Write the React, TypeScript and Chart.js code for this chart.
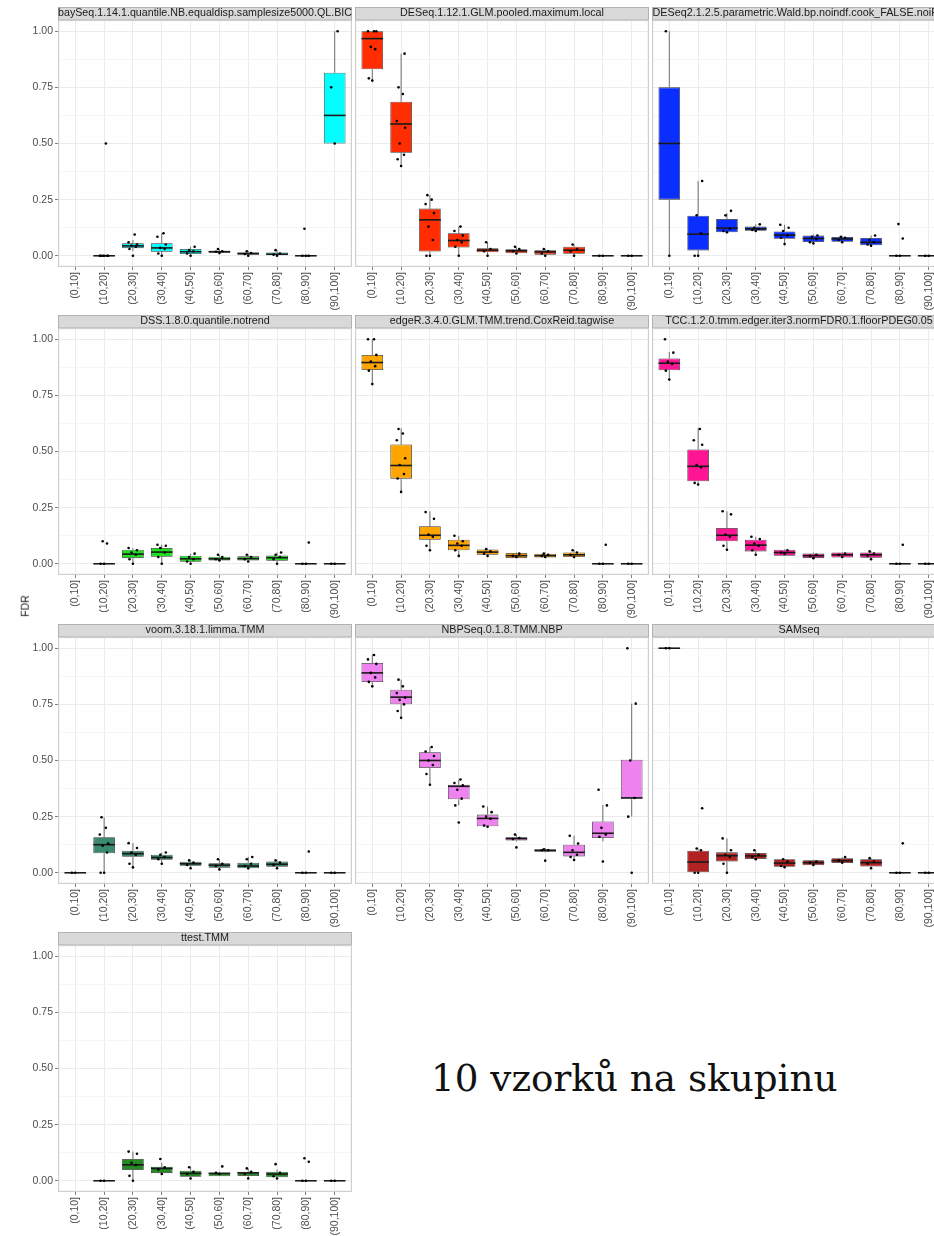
import React, { useEffect, useRef } from 'react';
import { Chart, registerables } from 'chart.js';

Chart.register(...registerables);
Chart.defaults.font.family = "'Liberation Sans', Arial, Helvetica, sans-serif";

// ---------- data ----------
const CATEGORIES = ['(0,10]', '(10,20]', '(20,30]', '(30,40]', '(40,50]', '(50,60]', '(60,70]', '(70,80]', '(80,90]', '(90,100]'];
const Y_LABEL = 'FDR';
const CAPTION = '10 vzorků na skupinu';

type Box = [number, number, number, number, number] | null; // [lower whisker, q1, median, q3, upper whisker]

const baySeqBoxes: Box[] = [null, [0, 0, 0, 0, 0], [0.02, 0.034, 0.044, 0.056, 0.07], [0, 0.018, 0.035, 0.056, 0.1], [0, 0.008, 0.018, 0.03, 0.04], [0.01, 0.013, 0.018, 0.022, 0.03], [0, 0.005, 0.01, 0.015, 0.02], [0, 0.002, 0.007, 0.015, 0.025], [0, 0, 0, 0, 0], [0.5, 0.5, 0.625, 0.815, 1.0]];
const baySeqPoints: number[][] = [[], [0, 0, 0, 0, 0, 0, 0.5], [0, 0.03, 0.04, 0.045, 0.05, 0.06, 0.095], [0, 0.01, 0.03, 0.035, 0.05, 0.085, 0.1], [0, 0.01, 0.02, 0.025, 0.04], [0.012, 0.018, 0.02, 0.03], [0, 0.008, 0.012, 0.02], [0, 0.005, 0.01, 0.025], [0, 0, 0, 0.12], [0.5, 0.75, 1.0]];

const deseqBoxes: Box[] = [[0.78, 0.83, 0.967, 1.0, 1.0], [0.4, 0.459, 0.587, 0.686, 0.9], [0, 0.019, 0.16, 0.21, 0.27], [0, 0.037, 0.068, 0.1, 0.13], [0, 0.016, 0.025, 0.034, 0.06], [0.01, 0.011, 0.022, 0.029, 0.04], [0, 0.005, 0.017, 0.025, 0.03], [0, 0.009, 0.025, 0.04, 0.05], [0, 0, 0, 0, 0], [0, 0, 0, 0, 0]];
const deseqPoints: number[][] = [[0.78, 0.79, 0.92, 0.93, 1, 1, 1], [0.4, 0.43, 0.45, 0.5, 0.57, 0.6, 0.72, 0.75, 0.9], [0, 0, 0.07, 0.13, 0.19, 0.23, 0.25, 0.27], [0, 0.04, 0.06, 0.07, 0.09, 0.11, 0.13], [0, 0.02, 0.03, 0.06], [0.01, 0.02, 0.03, 0.04], [0, 0.01, 0.02, 0.03], [0, 0.02, 0.03, 0.05], [0, 0], [0, 0]];

const deseq2Boxes: Box[] = [[0, 0.25, 0.5, 0.75, 1.0], [0, 0.024, 0.096, 0.178, 0.333], [0.1, 0.105, 0.123, 0.164, 0.19], [0.11, 0.111, 0.12, 0.13, 0.14], [0.052, 0.076, 0.092, 0.108, 0.138], [0.055, 0.061, 0.077, 0.09, 0.095], [0.06, 0.062, 0.075, 0.084, 0.088], [0.04, 0.047, 0.06, 0.079, 0.09], [0, 0, 0, 0, 0], [0, 0, 0, 0, 0]];
const deseq2Points: number[][] = [[0, 1.0], [0, 0, 0.1, 0.18, 0.333], [0.105, 0.11, 0.12, 0.18, 0.2], [0.11, 0.115, 0.12, 0.125, 0.14], [0.052, 0.08, 0.09, 0.11, 0.125, 0.138], [0.055, 0.06, 0.075, 0.085, 0.09], [0.06, 0.07, 0.08, 0.085], [0.045, 0.05, 0.06, 0.07, 0.09], [0, 0, 0.077, 0.141], [0, 0]];

const dssBoxes: Box[] = [null, [0, 0, 0, 0, 0], [0, 0.025, 0.043, 0.0625, 0.07], [0, 0.031, 0.052, 0.07, 0.085], [0, 0.009, 0.022, 0.036, 0.045], [0.012, 0.015, 0.022, 0.031, 0.04], [0.01, 0.015, 0.023, 0.033, 0.04], [0, 0.013, 0.027, 0.037, 0.05], [0, 0, 0, 0, 0], [0, 0, 0, 0, 0]];
const dssPoints: number[][] = [[], [0, 0, 0.09, 0.1], [0, 0.02, 0.04, 0.05, 0.06, 0.07], [0, 0.03, 0.05, 0.07, 0.08, 0.085], [0, 0.01, 0.02, 0.03, 0.045], [0.015, 0.02, 0.03, 0.04], [0.01, 0.02, 0.03, 0.04], [0, 0.02, 0.03, 0.04, 0.05], [0, 0, 0.095], [0, 0]];

const edgeRBoxes: Box[] = [[0.8, 0.863, 0.896, 0.93, 1.0], [0.318, 0.379, 0.4375, 0.531, 0.603], [0.06, 0.107, 0.127, 0.167, 0.234], [0.033, 0.06, 0.082, 0.107, 0.125], [0.035, 0.04, 0.052, 0.064, 0.068], [0.025, 0.025, 0.036, 0.048, 0.05], [0.025, 0.028, 0.036, 0.045, 0.05], [0.025, 0.03, 0.04, 0.05, 0.06], [0, 0, 0, 0, 0], [0, 0, 0, 0, 0]];
const edgeRPoints: number[][] = [[0.8, 0.86, 0.88, 0.9, 0.93, 1.0, 1.0], [0.32, 0.38, 0.4, 0.44, 0.47, 0.55, 0.58, 0.6], [0.06, 0.08, 0.12, 0.13, 0.2, 0.23], [0.035, 0.06, 0.08, 0.09, 0.1, 0.125], [0.035, 0.045, 0.055, 0.065], [0.03, 0.035, 0.045], [0.03, 0.035, 0.04, 0.045], [0.03, 0.04, 0.05, 0.06], [0, 0, 0.085], [0, 0]];

const tccBoxes: Box[] = [[0.82, 0.862, 0.893, 0.914, 0.943], [0.353, 0.367, 0.434, 0.509, 0.605], [0.0625, 0.1, 0.127, 0.159, 0.234], [0.04, 0.055, 0.083, 0.107, 0.12], [0.036, 0.036, 0.05, 0.0625, 0.065], [0.022, 0.025, 0.036, 0.046, 0.05], [0.028, 0.028, 0.04, 0.05, 0.052], [0.02, 0.027, 0.04, 0.05, 0.055], [0, 0, 0, 0, 0], [0, 0, 0, 0, 0]];
const tccPoints: number[][] = [[0.82, 0.86, 0.89, 0.9, 0.94, 1.0], [0.353, 0.36, 0.43, 0.44, 0.53, 0.55, 0.6], [0.0625, 0.08, 0.12, 0.13, 0.22, 0.234], [0.04, 0.06, 0.08, 0.09, 0.11, 0.12], [0.045, 0.05, 0.06], [0.025, 0.035, 0.04], [0.03, 0.04, 0.045], [0.02, 0.035, 0.045, 0.055], [0, 0, 0.085], [0, 0]];

const voomBoxes: Box[] = [[0, 0, 0, 0, 0], [0, 0.087, 0.125, 0.158, 0.247], [0.024, 0.071, 0.085, 0.098, 0.132], [0.04, 0.058, 0.068, 0.08, 0.09], [0.02, 0.031, 0.04, 0.049, 0.055], [0.015, 0.022, 0.034, 0.042, 0.06], [0.015, 0.02, 0.03, 0.045, 0.07], [0.02, 0.027, 0.038, 0.05, 0.055], [0, 0, 0, 0, 0], [0, 0, 0, 0, 0]];
const voomPoints: number[][] = [[0, 0], [0, 0, 0.09, 0.12, 0.13, 0.17, 0.2, 0.247], [0.024, 0.04, 0.08, 0.09, 0.11, 0.132], [0.04, 0.06, 0.07, 0.08, 0.09], [0.02, 0.035, 0.045, 0.055], [0.015, 0.03, 0.04, 0.06], [0.02, 0.03, 0.04, 0.06, 0.07], [0.02, 0.035, 0.045, 0.055], [0, 0, 0.095], [0, 0]];

const nbpseqBoxes: Box[] = [[0.83, 0.849, 0.89, 0.934, 0.973], [0.69, 0.75, 0.782, 0.815, 0.86], [0.392, 0.466, 0.5, 0.537, 0.56], [0.3, 0.327, 0.385, 0.392, 0.415], [0.205, 0.207, 0.242, 0.259, 0.295], [0.14, 0.144, 0.152, 0.158, 0.17], [0.09, 0.094, 0.1, 0.104, 0.11], [0.057, 0.073, 0.091, 0.125, 0.165], [0.14, 0.155, 0.176, 0.228, 0.302], [0.25, 0.333, 0.333, 0.503, 0.753]];
const nbpseqPoints: number[][] = [[0.83, 0.85, 0.87, 0.89, 0.93, 0.95, 0.97], [0.69, 0.72, 0.75, 0.77, 0.78, 0.8, 0.83, 0.86], [0.392, 0.44, 0.48, 0.5, 0.52, 0.54, 0.56], [0.224, 0.3, 0.33, 0.37, 0.39, 0.4, 0.415], [0.205, 0.21, 0.24, 0.25, 0.27, 0.295], [0.113, 0.15, 0.155, 0.17], [0.054, 0.1, 0.1, 0.105], [0.057, 0.07, 0.08, 0.1, 0.13, 0.165], [0.05, 0.16, 0.17, 0.2, 0.3, 0.37], [0, 0.25, 0.333, 0.5, 0.753, 1.0]];

const samseqBoxes: Box[] = [[1, 1, 1, 1, 1], [0, 0, 0.048, 0.098, 0.108], [0, 0.05, 0.076, 0.091, 0.153], [0.06, 0.061, 0.075, 0.088, 0.1], [0.025, 0.027, 0.043, 0.06, 0.06], [0.033, 0.033, 0.045, 0.056, 0.058], [0.043, 0.043, 0.054, 0.065, 0.07], [0.02, 0.028, 0.045, 0.06, 0.065], [0, 0, 0, 0, 0], [0, 0, 0, 0, 0]];
const samseqPoints: number[][] = [[1, 1], [0, 0, 0.1, 0.108, 0.287], [0, 0.04, 0.07, 0.08, 0.1, 0.153], [0.06, 0.07, 0.08, 0.1], [0.025, 0.03, 0.05, 0.06], [0.035, 0.045, 0.05], [0.045, 0.055, 0.07], [0.02, 0.04, 0.05, 0.065], [0, 0, 0.131], [0, 0]];

const ttestBoxes: Box[] = [null, [0, 0, 0, 0, 0], [0, 0.048, 0.071, 0.097, 0.13], [0.03, 0.034, 0.055, 0.0625, 0.08], [0.01, 0.018, 0.033, 0.045, 0.06], [0.02, 0.02, 0.033, 0.036, 0.04], [0.01, 0.021, 0.035, 0.04, 0.055], [0.01, 0.016, 0.03, 0.04, 0.05], [0, 0, 0, 0, 0], [0, 0, 0, 0, 0]];
const ttestPoints: number[][] = [[], [0, 0], [0, 0.022, 0.07, 0.08, 0.12, 0.13], [0.03, 0.05, 0.06, 0.097], [0.01, 0.03, 0.04, 0.06], [0.03, 0.035, 0.064], [0.01, 0.03, 0.04, 0.055], [0.01, 0.02, 0.035, 0.074], [0, 0, 0.085, 0.1], [0, 0]];

const PANEL_TITLES = [
  'baySeq.1.14.1.quantile.NB.equaldisp.samplesize5000.QL.BIC',
  'DESeq.1.12.1.GLM.pooled.maximum.local',
  'DESeq2.1.2.5.parametric.Wald.bp.noindf.cook_FALSE.noiFilt',
  'DSS.1.8.0.quantile.notrend',
  'edgeR.3.4.0.GLM.TMM.trend.CoxReid.tagwise',
  'TCC.1.2.0.tmm.edger.iter3.normFDR0.1.floorPDEG0.05',
  'voom.3.18.1.limma.TMM',
  'NBPSeq.0.1.8.TMM.NBP',
  'SAMseq',
  'ttest.TMM',
];
const PANEL_BOXES = [baySeqBoxes, deseqBoxes, deseq2Boxes, dssBoxes, edgeRBoxes, tccBoxes, voomBoxes, nbpseqBoxes, samseqBoxes, ttestBoxes];
const PANEL_POINTS = [baySeqPoints, deseqPoints, deseq2Points, dssPoints, edgeRPoints, tccPoints, voomPoints, nbpseqPoints, samseqPoints, ttestPoints];

// ---------- styles / layout ----------
const PANEL_COLORS = ['#00FFFF', '#FF2D00', '#0A2EFF', '#1FE01F', '#FFA500', '#FF1493', '#3A8A6E', '#EE82EE', '#B22222', '#228B22'];
const JITTER = [0, -0.12, 0.1, -0.05, 0.14, -0.15, 0.06, -0.09, 0.12, 0.03];
const COL_LEFTS = [0, 355, 652];
const COL_WIDTHS = [352, 294, 294];
const ROW_TOPS = [7, 315, 624, 932];
const CANVAS_H = 308;
const AXIS_W = 58;
const XAXIS_H = 48;

const isMajor = (v: number) => Math.abs(v * 4 - Math.round(v * 4)) < 1e-6;

const facetPlugin = {
  id: 'facetExtras',
  beforeDraw(chart: any) {
    const { ctx, chartArea: ca } = chart;
    const tb = chart.titleBlock;
    if (!tb) return;
    ctx.save();
    ctx.fillStyle = '#D9D9D9';
    ctx.fillRect(ca.left, tb.top, ca.right - ca.left, tb.bottom - tb.top);
    ctx.strokeStyle = '#A8A8A8';
    ctx.lineWidth = 0.8;
    ctx.strokeRect(ca.left + 0.5, tb.top + 0.5, ca.right - ca.left - 1, tb.bottom - tb.top - 0.5);
    ctx.restore();
  },
  afterDatasetDraw(chart: any, args: any) {
    if (args.meta.type !== 'bar') return;
    const { ctx } = chart;
    const yS = chart.scales.y;
    const data = chart.data.datasets[args.index].data;
    ctx.save();
    args.meta.data.forEach((el: any, k: number) => {
      const d = data[k];
      const x = el.x;
      const w = el.width;
      ctx.strokeStyle = '#333333';
      ctx.lineWidth = 0.7;
      ctx.beginPath();
      ctx.moveTo(x, yS.getPixelForValue(d.y[1]));
      ctx.lineTo(x, yS.getPixelForValue(d.hi));
      ctx.moveTo(x, yS.getPixelForValue(d.y[0]));
      ctx.lineTo(x, yS.getPixelForValue(d.lo));
      ctx.stroke();
      ctx.strokeStyle = '#1A1A1A';
      ctx.lineWidth = 1.6;
      ctx.beginPath();
      const ym = yS.getPixelForValue(d.med);
      ctx.moveTo(x - w / 2, ym);
      ctx.lineTo(x + w / 2, ym);
      ctx.stroke();
    });
    ctx.restore();
  },
  afterDraw(chart: any) {
    const { ctx, chartArea: ca } = chart;
    ctx.save();
    ctx.strokeStyle = '#CFCFCF';
    ctx.lineWidth = 1.2;
    ctx.strokeRect(ca.left + 0.6, ca.top + 0.6, ca.right - ca.left - 1.2, ca.bottom - ca.top - 1.2);
    ctx.restore();
  },
};

function buildConfig(idx: number, showY: boolean): any {
  const boxes = PANEL_BOXES[idx];
  const points = PANEL_POINTS[idx];
  const boxData: any[] = [];
  boxes.forEach((b, i) => {
    if (b) boxData.push({ x: i, y: [b[1], b[3]], lo: b[0], med: b[2], hi: b[4] });
  });
  const pointData: any[] = [];
  points.forEach((arr, i) => {
    arr.forEach((v, k) => pointData.push({ x: i + JITTER[k % JITTER.length], y: v }));
  });
  const tickFont = { size: 10.5 };
  return {
    type: 'bar',
    data: {
      datasets: [
        {
          type: 'bar',
          data: boxData,
          backgroundColor: PANEL_COLORS[idx],
          borderColor: '#333333',
          borderWidth: 0.8,
          borderSkipped: false,
          barPercentage: 0.75,
          categoryPercentage: 1,
          order: 2,
        },
        {
          type: 'scatter',
          data: pointData,
          pointRadius: 1.3,
          pointBackgroundColor: '#000000',
          pointBorderWidth: 0,
          borderWidth: 0,
          order: 1,
        },
      ],
    },
    options: {
      responsive: false,
      animation: false,
      events: [],
      layout: { padding: 0, autoPadding: false },
      plugins: {
        legend: { display: false },
        tooltip: { enabled: false },
        title: {
          display: true,
          text: PANEL_TITLES[idx],
          fullSize: false,
          padding: 0,
          color: '#1A1A1A',
          font: { size: 10.8, weight: 'normal', lineHeight: 1.2 },
        },
      },
      scales: {
        x: {
          type: 'linear',
          min: -0.6,
          max: 9.6,
          offset: false,
          grid: { offset: false, color: '#EBEBEB', lineWidth: 1, tickLength: 3, tickColor: '#7F7F7F' },
          border: { display: false },
          ticks: {
            stepSize: 1,
            includeBounds: false,
            autoSkip: false,
            maxTicksLimit: 100,
            minRotation: 90,
            maxRotation: 90,
            padding: 2,
            color: '#4D4D4D',
            font: tickFont,
            callback: (v: number) => CATEGORIES[Math.round(v)] ?? '',
          },
          afterFit: (s: any) => { s.height = XAXIS_H; },
        },
        y: {
          type: 'linear',
          min: -0.05,
          max: 1.05,
          grid: {
            color: (c: any) => (c.tick && isMajor(c.tick.value) ? '#EBEBEB' : '#F5F5F5'),
            tickColor: (c: any) => (c.tick && isMajor(c.tick.value) ? '#7F7F7F' : 'rgba(0,0,0,0)'),
            tickLength: 3,
            drawTicks: showY,
          },
          border: { display: false },
          ticks: {
            display: showY,
            stepSize: 0.125,
            includeBounds: false,
            maxTicksLimit: 100,
            padding: 2,
            color: '#4D4D4D',
            font: tickFont,
            callback: (v: number) => (isMajor(v) ? v.toFixed(2) : ''),
          },
          afterFit: (s: any) => { s.width = showY ? AXIS_W : 0; },
        },
      },
    },
    plugins: [facetPlugin],
  };
}

function Panel({ idx }: { idx: number }) {
  const ref = useRef<HTMLCanvasElement>(null);
  const col = idx % 3;
  const row = Math.floor(idx / 3);
  useEffect(() => {
    if (!ref.current) return;
    const chart = new Chart(ref.current, buildConfig(idx, col === 0));
    return () => chart.destroy();
  }, [idx, col]);
  return (
    <canvas
      ref={ref}
      width={COL_WIDTHS[col]}
      height={CANVAS_H}
      style={{ position: 'absolute', left: COL_LEFTS[col], top: ROW_TOPS[row], width: COL_WIDTHS[col], height: CANVAS_H }}
    />
  );
}

export default function App() {
  return (
    <div style={{ position: 'absolute', left: 0, top: 0, width: 934, height: 1236, overflow: 'hidden', background: '#FFFFFF' }}>
      {PANEL_TITLES.map((_, i) => (
        <Panel key={i} idx={i} />
      ))}
      <div
        style={{
          position: 'absolute',
          left: 24.5,
          top: 605.5,
          transform: 'translate(-50%, -50%) rotate(-90deg)',
          fontFamily: "'Liberation Sans', Arial, sans-serif",
          fontSize: 10.5,
          color: '#1A1A1A',
          whiteSpace: 'nowrap',
          lineHeight: 1,
        }}
      >
        {Y_LABEL}
      </div>
      <div
        style={{
          position: 'absolute',
          left: 431,
          top: 1060,
          fontFamily: "'DejaVu Serif', serif",
          fontSize: 37.3,
          lineHeight: 1,
          color: '#111111',
          whiteSpace: 'nowrap',
        }}
      >
        {CAPTION}
      </div>
    </div>
  );
}
